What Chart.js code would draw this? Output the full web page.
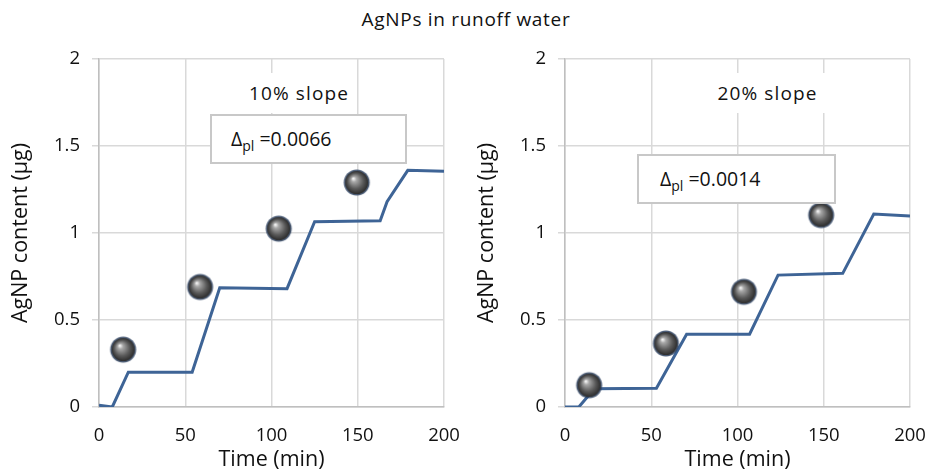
<!DOCTYPE html>
<html>
<head>
<meta charset="utf-8">
<script src="https://cdn.jsdelivr.net/npm/chart.js@4.4.1/dist/chart.umd.min.js"></script>
<style>
  body { margin: 0; background: #fff; font-family: "Open Sans", sans-serif; color: #111; }
  #wrap { position: relative; width: 932px; height: 473px; overflow: hidden; }
  .panel { position: absolute; top: 0; width: 466px; height: 473px; }
  #title { position: absolute; top: 6px; left: 0; width: 932px; text-align: center; font-size: 19px; letter-spacing: 0.7px; }
  .slope { position: absolute; background: #fff; font-size: 19px; letter-spacing: 1.1px; text-align: center; line-height: 40px; height: 40px; }
  .delta { position: absolute; background: #fff; border: 2px solid #c8c8c8; box-sizing: border-box; font-size: 19.5px; height: 50px; line-height: 46px; }
  .delta sub { font-size: 14px; vertical-align: -5px; }
</style>
</head>
<body>
<div id="wrap">
  <div id="title">AgNPs in runoff water</div>
  <div class="panel" style="left:0"><canvas id="c10" width="466" height="473"></canvas></div>
  <div class="panel" style="left:466px"><canvas id="c20" width="466" height="473"></canvas></div>
  <div class="slope" style="left:243px; top:73px; width:112px;">10% slope</div>
  <div class="delta" style="left:210px; top:114px; width:197px; padding-left:19px;">&Delta;<sub>pl</sub> =0.0066</div>
  <div class="slope" style="left:710px; top:73px; width:115px;">20% slope</div>
  <div class="delta" style="left:637px; top:154px; width:199px; padding-left:21px;">&Delta;<sub>pl</sub> =0.0014</div>
</div>
<script>
// tick values and labels
var xTicks = [0, 50, 100, 150, 200];
var yTicks = [0, 0.5, 1, 1.5, 2];
var yTickLabels = ['0', '0.5', '1', '1.5', '2'];

// 10% slope: modelled curve
var time10 = [0, 7.7, 17, 54, 70, 109, 125, 163, 167, 179, 200];
var model10 = [0.01, 0, 0.2, 0.2, 0.685, 0.68, 1.065, 1.07, 1.18, 1.36, 1.355];
// 10% slope: measured samples
var sampleTime10 = [14, 58.6, 104.2, 149.4];
var sample10 = [0.33, 0.69, 1.025, 1.29];

// 20% slope: modelled curve
var time20 = [0, 8, 17, 53, 70.5, 107, 123.5, 161, 179, 200];
var model20 = [0, 0, 0.105, 0.108, 0.418, 0.418, 0.758, 0.768, 1.109, 1.097];
// 20% slope: measured samples
var sampleTime20 = [14, 58.5, 103.7, 148.5];
var sample20 = [0.125, 0.365, 0.662, 1.103];

Chart.defaults.font.family = '"Open Sans"';
Chart.defaults.color = '#111';

//grey ball used as point marker
function makeSphere(r) {
  var c = document.createElement('canvas');
  var s = Math.ceil(r * 2 + 6);
  c.width = s; c.height = s;
  var g = c.getContext('2d');
  var cx = s / 2;
  g.beginPath();
  g.arc(cx, cx, r + 1.5, 0, 2 * Math.PI);
  g.fillStyle = 'rgba(45,65,95,0.85)';
  g.fill();
  var grad = g.createRadialGradient(cx - r * 0.3, cx - r * 0.35, 0.5, cx, cx, r);
  grad.addColorStop(0, '#f4f4f4');
  grad.addColorStop(0.2, '#a8a8a8');
  grad.addColorStop(0.65, '#5a5a5a');
  grad.addColorStop(1, '#2c2c2c');
  g.beginPath();
  g.arc(cx, cx, r, 0, 2 * Math.PI);
  g.fillStyle = grad;
  g.fill();
  return c;
}
var ball = makeSphere(11.5);

function toXY(xs, ys) {
  var out = [];
  for (var i in xs) out.push({ x: xs[i], y: ys[i] });
  return out;
}

function makeChart(id, tx, ty, sx, sy) {
  var ctx = document.getElementById(id);
  return new Chart(ctx, {
    type: 'scatter',
    data: {
      datasets: [
        {
          label: 'measured',
          data: toXY(sx, sy),
          pointStyle: ball,
          pointRadius: 12,
          pointHoverRadius: 12
        },
        {
          label: 'model',
          data: toXY(tx, ty),
          showLine: true,
          borderColor: 'rgb(62,100,150)',
          borderWidth: 3,
          pointRadius: 0,
          fill: false,
          tension: 0
        }
      ]
    },
    options: {
      responsive: false,
      animation: false,
      layout: { padding: { top: 59, right: 22, bottom: 0, left: 0 } },
      plugins: { legend: { display: false }, title: { display: false }, tooltip: { enabled: false } },
      scales: {
        x: {
          type: 'linear',
          min: 0, max: 200,
          afterBuildTicks: function (s) { s.ticks = xTicks.map(function (v) { return { value: v }; }); },
          afterFit: function (s) { s.height = 66; s.paddingLeft = 0; s.paddingRight = 0; },
          grid: { color: '#d9d9d9', lineWidth: 1.5, drawTicks: false },
          border: { color: '#bfbfbf', width: 1.5 },
          ticks: { font: { size: 18.5 }, padding: 18, maxRotation: 0 },
          title: { display: true, text: 'Time (min)', font: { size: 21.5 }, padding: { top: 0, bottom: 0 } }
        },
        y: {
          min: 0, max: 2,
          afterBuildTicks: function (s) { s.ticks = yTicks.map(function (v) { return { value: v }; }); },
          afterFit: function (s) { s.width = 99; },
          grid: { color: '#d9d9d9', lineWidth: 1.5, tickLength: 7 },
          border: { color: '#bfbfbf', width: 1.5 },
          ticks: {
            font: { size: 18.5 }, padding: 12,
            callback: function (v, i) { return yTickLabels[i]; }
          },
          title: { display: true, text: 'AgNP content (µg)', font: { size: 21.5 }, padding: { top: 8, bottom: 0 } }
        }
      }
    }
  });
}

makeChart('c10', time10, model10, sampleTime10, sample10);
makeChart('c20', time20, model20, sampleTime20, sample20);
</script>
</body>
</html>
